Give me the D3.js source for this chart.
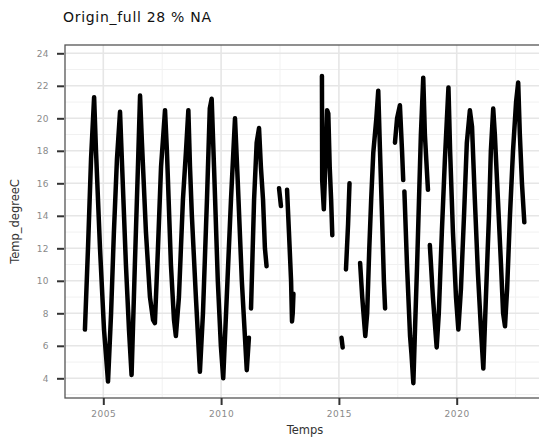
<!DOCTYPE html>
<html>
<head>
<meta charset="utf-8">
<script src="https://cdn.jsdelivr.net/npm/d3@7"></script>
<style>
  body { margin: 0; background: #fff; }
  svg { display: block; font-family: "DejaVu Sans", sans-serif; }
</style>
</head>
<body>
<svg id="chart" width="539" height="448"></svg>
<script>
// ---- data (decimal year, temperature in degC; null = missing) ----
const dates = [
  2004.22, 2004.35, 2004.48, 2004.61, 2004.69, 2004.86, 2005.03, 2005.11, 2005.20,
  2005.33, 2005.45, 2005.58, 2005.71, 2005.80, 2005.96, 2006.09, 2006.20,
  2006.34, 2006.47, 2006.56, 2006.64, 2006.81, 2006.98, 2007.11, 2007.19,
  2007.32, 2007.45, 2007.62, 2007.70, 2007.87, 2008.00, 2008.08,
  2008.21, 2008.38, 2008.51, 2008.61, 2008.68, 2008.76, 2008.93, 2009.10,
  2009.23, 2009.40, 2009.52, 2009.60, 2009.70, 2009.86, 2009.99, 2010.09,
  2010.24, 2010.42, 2010.59, 2010.71, 2010.88, 2011.09, 2011.18, 2011.22,
  2011.27, 2011.40, 2011.51, 2011.61, 2011.69, 2011.78, 2011.86, 2011.93, 2012.00,
  2012.46, 2012.54, 2012.60,
  2012.80, 2012.88, 2012.97, 2013.01, 2013.04, 2013.07, 2013.30,
  2014.28, 2014.29, 2014.36, 2014.42, 2014.50, 2014.55, 2014.61, 2014.67, 2014.72, 2014.90,
  2015.11, 2015.16, 2015.20,
  2015.30, 2015.39, 2015.45, 2015.60,
  2015.90, 2015.99, 2016.12, 2016.20, 2016.29, 2016.37, 2016.46, 2016.59, 2016.67,
  2016.74, 2016.83, 2016.91, 2016.96, 2017.20,
  2017.38, 2017.47, 2017.59, 2017.68, 2017.73, 2017.75,
  2017.78, 2017.89, 2018.02, 2018.08, 2018.16, 2018.23, 2018.32, 2018.40, 2018.48,
  2018.58, 2018.65, 2018.78, 2018.82,
  2018.86, 2018.99, 2019.15, 2019.24, 2019.37, 2019.50, 2019.65, 2019.72, 2019.84,
  2019.97, 2020.07, 2020.18, 2020.31, 2020.43, 2020.56, 2020.65, 2020.77, 2020.90,
  2021.03, 2021.13, 2021.24, 2021.37, 2021.45, 2021.55, 2021.62, 2021.75, 2021.88,
  2021.97, 2022.05, 2022.14, 2022.26, 2022.39, 2022.52, 2022.61, 2022.68, 2022.77, 2022.87
];
const temps = [
  7.0, 12.0, 17.5, 21.3, 18.0, 12.0, 7.0, 5.5, 3.8,
  8.0, 13.0, 17.5, 20.4, 17.0, 11.0, 7.0, 4.2,
  11.0, 17.0, 21.4, 18.5, 13.0, 9.0, 7.6, 7.4,
  12.0, 17.0, 20.5, 18.0, 11.0, 7.6, 6.6,
  9.0, 15.0, 18.0, 20.5, 17.0, 14.0, 9.0, 4.4,
  8.0, 15.0, 20.6, 21.2, 17.0, 10.0, 6.0, 4.0,
  9.0, 15.0, 20.0, 16.0, 10.0, 4.5, 6.5, null,
  8.3, 15.0, 18.5, 19.4, 17.0, 15.0, 12.0, 10.9, null,
  15.7, 14.6, null,
  15.6, 13.0, 10.0, 7.5, 8.0, 9.2, null,
  22.6, 16.2, 14.4, 17.0, 20.5, 20.3, 17.0, 15.0, 12.8, null,
  6.5, 5.9, null,
  10.7, 13.5, 16.0, null,
  11.1, 9.0, 6.6, 8.0, 12.0, 15.0, 17.9, 20.0, 21.7,
  18.2, 14.0, 10.0, 8.3, null,
  18.5, 20.0, 20.8, 18.0, 16.2, null,
  15.5, 11.0, 6.6, 5.5, 3.7, 7.0, 11.0, 15.0, 19.0,
  22.5, 19.0, 15.6, null,
  12.2, 9.0, 5.9, 8.0, 13.0, 17.5, 21.9, 18.0, 13.0,
  9.0, 7.0, 9.5, 14.0, 18.5, 20.5, 19.5, 15.0, 10.5,
  7.0, 4.6, 9.0, 14.0, 18.0, 20.6, 19.0, 15.0, 11.0,
  8.0, 7.2, 9.5, 14.0, 18.0, 21.0, 22.2, 19.0, 16.0, 13.6
];
const xTickValues = [2005, 2010, 2015, 2020];
const xTickLabels = ["2005", "2010", "2015", "2020"];
const yTickValues = [4, 6, 8, 10, 12, 14, 16, 18, 20, 22, 24];
const xMinorValues = [2002.5, 2007.5, 2012.5, 2017.5, 2022.5];
const yMinorValues = [3, 5, 7, 9, 11, 13, 15, 17, 19, 21, 23];
const titleText = "Origin_full 28 % NA";
const xTitle = "Temps";
const yTitle = "Temp_degreeC";

// ---- layout ----
const svg = d3.select("#chart");
const panel = { left: 65, top: 45, right: 545, bottom: 398 };

const x = d3.scaleLinear()
  .domain([2005, 2020])
  .range([103.3, 456.7]);
const y = d3.scaleLinear()
  .domain([4, 24])
  .range([378.3, 53.3]);

const points = dates.map((d, i) => ({ d, v: temps[i] }));

// panel background
svg.append("rect")
  .attr("x", panel.left).attr("y", panel.top)
  .attr("width", panel.right - panel.left).attr("height", panel.bottom - panel.top)
  .attr("fill", "#fff");

const grid = svg.append("g");
// minor grid
grid.selectAll(".ymin").data(yMinorValues).join("line")
  .attr("x1", panel.left).attr("x2", panel.right)
  .attr("y1", d => y(d)).attr("y2", d => y(d))
  .attr("stroke", "#f1f1f1").attr("stroke-width", 1);
grid.selectAll(".xmin").data(xMinorValues.filter(v => x(v) > panel.left)).join("line")
  .attr("y1", panel.top).attr("y2", panel.bottom)
  .attr("x1", d => x(d)).attr("x2", d => x(d))
  .attr("stroke", "#f1f1f1").attr("stroke-width", 1);
// major grid
grid.selectAll(".ymaj").data(yTickValues).join("line")
  .attr("x1", panel.left).attr("x2", panel.right)
  .attr("y1", d => y(d)).attr("y2", d => y(d))
  .attr("stroke", "#e6e6e6").attr("stroke-width", 1.6);
grid.selectAll(".xmaj").data(xTickValues).join("line")
  .attr("y1", panel.top).attr("y2", panel.bottom)
  .attr("x1", d => x(d)).attr("x2", d => x(d))
  .attr("stroke", "#e6e6e6").attr("stroke-width", 1.6);

// data line
const line = d3.line()
  .defined(p => p.v !== null)
  .x(p => x(p.d))
  .y(p => y(p.v));

svg.append("path")
  .datum(points)
  .attr("d", line)
  .attr("fill", "none")
  .attr("stroke", "#000")
  .attr("stroke-width", 4.5)
  .attr("stroke-linejoin", "round")
  .attr("stroke-linecap", "round");

// panel border
svg.append("rect")
  .attr("x", panel.left).attr("y", panel.top)
  .attr("width", panel.right - panel.left).attr("height", panel.bottom - panel.top)
  .attr("fill", "none").attr("stroke", "#555").attr("stroke-width", 1.3);

// axes
const xAxis = d3.axisBottom(x)
  .tickValues(xTickValues)
  .tickFormat((d, i) => xTickLabels[i])
  .tickSize(7).tickPadding(6);
const gx = svg.append("g").attr("transform", `translate(0,${panel.bottom})`).call(xAxis);
gx.select(".domain").remove();
gx.selectAll(".tick line").attr("stroke", "#333").attr("stroke-width", 2);
gx.selectAll(".tick text").attr("fill", "#8a8a8a").attr("font-size", 9)
  .attr("letter-spacing", 0.6)
  .attr("font-family", "DejaVu Sans, sans-serif");

const yAxis = d3.axisLeft(y)
  .tickValues(yTickValues)
  .tickSize(7).tickPadding(8);
const gy = svg.append("g").attr("transform", `translate(${panel.left - 1},0)`).call(yAxis);
gy.select(".domain").remove();
gy.selectAll(".tick line").attr("stroke", "#333").attr("stroke-width", 2);
gy.selectAll(".tick text").attr("fill", "#8a8a8a").attr("font-size", 9)
  .attr("letter-spacing", 0.4)
  .attr("font-family", "DejaVu Sans, sans-serif");

// titles
svg.append("text")
  .attr("x", 63).attr("y", 22)
  .attr("font-size", 14).attr("fill", "#111")
  .attr("letter-spacing", 0.7)
  .attr("font-family", "DejaVu Sans, sans-serif")
  .text(titleText);

svg.append("text")
  .attr("x", (panel.left + panel.right) / 2).attr("y", 434)
  .attr("text-anchor", "middle")
  .attr("font-size", 11.5).attr("fill", "#333")
  .attr("font-family", "DejaVu Sans, sans-serif")
  .text(xTitle);

svg.append("text")
  .attr("transform", `translate(19,${(panel.top + panel.bottom) / 2}) rotate(-90)`)
  .attr("text-anchor", "middle")
  .attr("font-size", 11.5).attr("fill", "#333")
  .attr("font-family", "DejaVu Sans, sans-serif")
  .text(yTitle);
</script>
</body>
</html>
